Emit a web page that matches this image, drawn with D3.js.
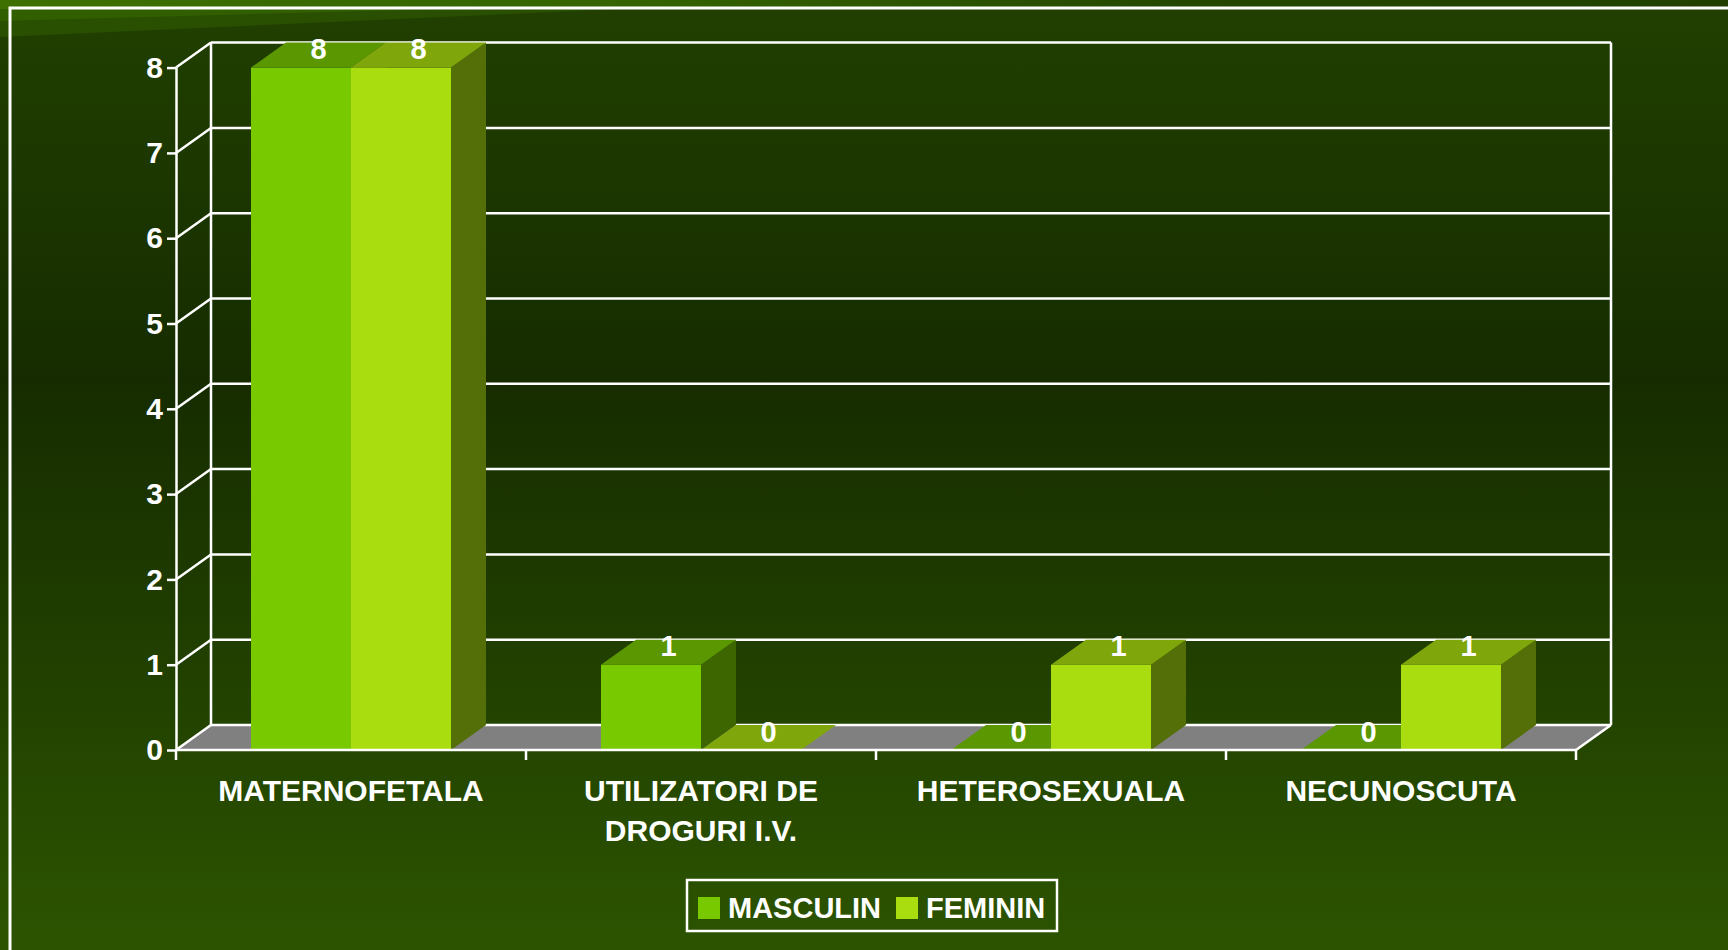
<!DOCTYPE html>
<html>
<head>
<meta charset="utf-8">
<script src="https://cdn.jsdelivr.net/npm/d3@7"></script>
<style>
  html, body { margin: 0; padding: 0; background: #1a3300; }
  svg { display: block; font-family: "Liberation Sans", Arial, sans-serif; }
</style>
</head>
<body>
<div id="chart"></div>
<script>
// data
const categories = ["MATERNOFETALA", "UTILIZATORI DE\nDROGURI I.V.", "HETEROSEXUALA", "NECUNOSCUTA"];
const series = ["MASCULIN", "FEMININ"];
const masculin = [8, 1, 0, 0];
const feminin = [8, 0, 1, 1];
const yTicks = [0, 1, 2, 3, 4, 5, 6, 7, 8];

// face colours per series: front, top, side
const colors = {
  MASCULIN: { front: "#79c900", top: "#5a9700", side: "#3d6600" },
  FEMININ: { front: "#a9dd10", top: "#7fa70c", side: "#546f08" }
};

const W = 1728, H = 950;
const dx = 35, dy = 25;  // depth offset of the 3d box

const svg = d3.select("#chart").append("svg")
  .attr("width", W).attr("height", H);

// background
const defs = svg.append("defs");
const bg = defs.append("linearGradient").attr("id", "bg")
  .attr("x1", 0).attr("y1", 0).attr("x2", 0).attr("y2", 1);
bg.append("stop").attr("offset", "0%").attr("stop-color", "#214000");
bg.append("stop").attr("offset", "40%").attr("stop-color", "#162c00");
bg.append("stop").attr("offset", "100%").attr("stop-color", "#2c5400");
svg.append("rect").attr("width", W).attr("height", H).attr("fill", "url(#bg)");

const band = defs.append("linearGradient").attr("id", "topband")
  .attr("x1", 0).attr("y1", 0).attr("x2", 1).attr("y2", 0);
band.append("stop").attr("offset", "0%").attr("stop-color", "#3d7000");
band.append("stop").attr("offset", "35%").attr("stop-color", "#356400");
band.append("stop").attr("offset", "70%").attr("stop-color", "#244600");
band.append("stop").attr("offset", "100%").attr("stop-color", "#214000");
svg.append("rect").attr("width", W).attr("height", 9).attr("fill", "url(#topband)");
svg.append("path").attr("d", "M0,9 L620,9 L0,37 Z").attr("fill", "#2b5200").attr("opacity", 0.85);
svg.append("path").attr("d", "M0,9 L440,9 L0,21 Z").attr("fill", "#315f00");

// outer frame
svg.append("path").attr("d", `M${W + 5},8 H10 V${H + 5}`)
  .attr("fill", "none").attr("stroke", "#fff").attr("stroke-width", 3);

// scales
const x0 = d3.scaleBand().domain(categories).range([176, 1576]);
const x1 = d3.scaleBand().domain(series).range([0, x0.bandwidth()]).paddingOuter(0.75);
const y = d3.scaleLinear().domain([0, 8]).range([750, 67.6]);

const [xl, xr] = x0.range();
const g = svg.append("g");
const line = (x1p, y1p, x2p, y2p) => g.append("line")
  .attr("x1", x1p).attr("y1", y1p).attr("x2", x2p).attr("y2", y2p)
  .attr("stroke", "#fff").attr("stroke-width", 2.5);

// floor
g.append("path")
  .attr("d", `M${xl},${y(0)} L${xr},${y(0)} L${xr + dx},${y(0) - dy} L${xl + dx},${y(0) - dy} Z`)
  .attr("fill", "#808080");

// back wall and side wall grid
yTicks.forEach(t => {
  line(xl + dx, y(t) - dy, xr + dx, y(t) - dy);
  line(xl, y(t), xl + dx, y(t) - dy);
});
line(xl + dx, y(8) - dy, xl + dx, y(0) - dy);
line(xr + dx, y(8) - dy, xr + dx, y(0) - dy);
line(xr, y(0), xr + dx, y(0) - dy);

// bars
const rows = [];
categories.forEach((c, i) => {
  rows.push({ cat: c, s: "MASCULIN", v: masculin[i] });
  rows.push({ cat: c, s: "FEMININ", v: feminin[i] });
});

const bars = g.append("g").selectAll("g").data(rows).join("g");
bars.each(function (d) {
  const b = d3.select(this);
  const xa = x0(d.cat) + x1(d.s), xb = xa + x1.bandwidth();
  const yt = y(d.v), yb = y(0);
  const c = colors[d.s];
  if (d.v > 0) {
    b.append("rect").attr("x", xa).attr("y", yt)
      .attr("width", xb - xa).attr("height", yb - yt).attr("fill", c.front);
    b.append("path")
      .attr("d", `M${xb},${yt} L${xb + dx},${yt - dy} L${xb + dx},${yb - dy} L${xb},${yb} Z`)
      .attr("fill", c.side);
  }
  b.append("path")
    .attr("d", `M${xa},${yt} L${xb},${yt} L${xb + dx},${yt - dy} L${xa + dx},${yt - dy} Z`)
    .attr("fill", c.top);
});

// value labels
g.append("g").selectAll("text").data(rows).join("text")
  .attr("x", d => x0(d.cat) + x1(d.s) + x1.bandwidth() / 2 + dx / 2)
  .attr("y", d => y(d.v) - dy / 2 - 6)
  .attr("text-anchor", "middle")
  .attr("dominant-baseline", "central")
  .attr("fill", "#fff")
  .attr("font-size", 29)
  .attr("font-weight", "bold")
  .text(d => d.v);

// front axes
const yAxis = d3.axisLeft(y).tickValues(yTicks).tickSize(9).tickSizeOuter(0).tickPadding(4);
const ya = svg.append("g").attr("transform", `translate(${xl},0)`).call(yAxis);
ya.selectAll("path, line").attr("stroke", "#fff").attr("stroke-width", 2.5);
ya.selectAll("text").attr("fill", "#fff").attr("font-size", 30).attr("font-weight", "bold")
  .attr("font-family", "Liberation Sans, Arial, sans-serif");

line(xl, y(0), xr, y(0));
categories.concat([null]).forEach(c => {
  const xt = c === null ? xr : x0(c);
  line(xt, y(0), xt, y(0) + 10);
});

// category labels
const cl = svg.append("g").selectAll("text").data(categories).join("text")
  .attr("x", d => x0(d) + x0.bandwidth() / 2)
  .attr("y", 801)
  .attr("text-anchor", "middle")
  .attr("fill", "#fff")
  .attr("font-size", 30)
  .attr("font-weight", "bold");
cl.each(function (d) {
  const t = d3.select(this);
  d.split("\n").forEach((s, k) => {
    t.append("tspan").attr("x", x0(d) + x0.bandwidth() / 2).attr("dy", k ? 40 : 0).text(s);
  });
});

// legend
const lg = svg.append("g");
lg.append("rect").attr("x", 687).attr("y", 880).attr("width", 370).attr("height", 51)
  .attr("fill", "none").attr("stroke", "#fff").attr("stroke-width", 2.5);
const legendX = [698, 896];
series.forEach((s, i) => {
  lg.append("rect").attr("x", legendX[i]).attr("y", 897).attr("width", 22).attr("height", 22)
    .attr("fill", colors[s].front);
  lg.append("text").attr("x", legendX[i] + 30).attr("y", 918)
    .attr("fill", "#fff").attr("font-size", 29).attr("font-weight", "bold").text(s);
});
</script>
</body>
</html>
